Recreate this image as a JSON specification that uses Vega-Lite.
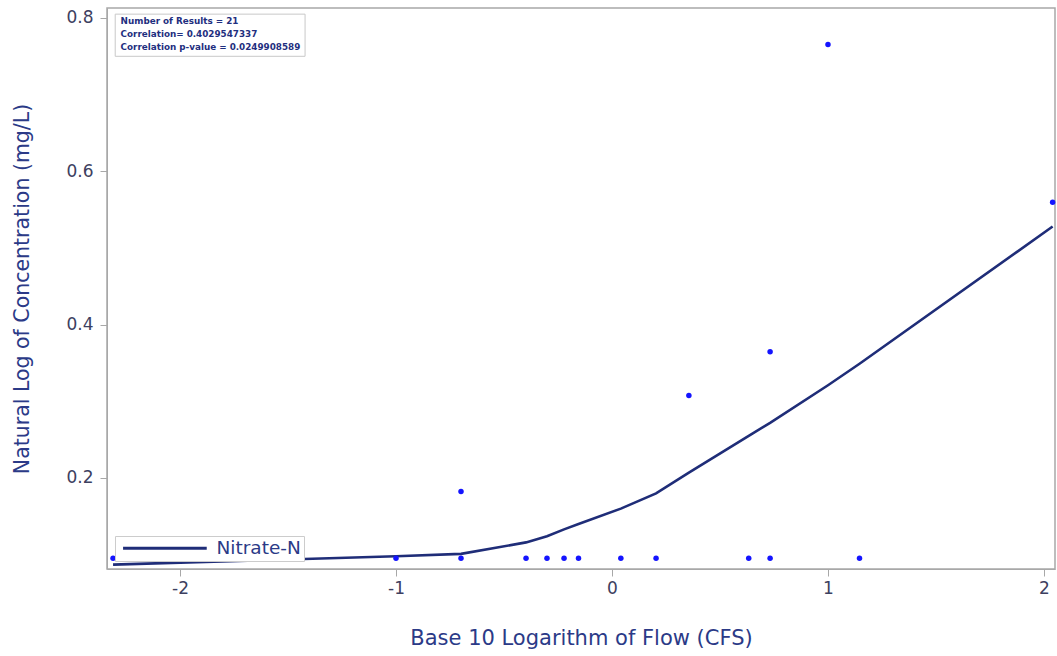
{
  "$schema": "https://vega.github.io/schema/vega-lite/v6.json",
  "width": 948,
  "height": 561,
  "autosize": {"type": "none"},
  "padding": {"left": 107, "top": 8, "right": 2, "bottom": 87},
  "background": "white",
  "config": {
    "font": "DejaVu Sans",
    "view": {"stroke": "#a8a8a8", "strokeWidth": 1.5},
    "axis": {"grid": false, "domainColor": "#a8a8a8", "tickColor": "#a8a8a8", "tickSize": 7, "labelFont": "DejaVu Sans", "labelFontSize": 17, "labelColor": "#3d4060", "titleFont": "DejaVu Sans", "titleFontSize": 20.5, "titleFontWeight": "normal", "titleColor": "#2b3a87"}
  },
  "datasets": {
    "points": [
      {"logflow": -2.31, "lnconc": 0.0953},
      {"logflow": -1.0, "lnconc": 0.0953},
      {"logflow": -0.699, "lnconc": 0.0953},
      {"logflow": -0.699, "lnconc": 0.1823},
      {"logflow": -0.398, "lnconc": 0.0953},
      {"logflow": -0.301, "lnconc": 0.0953},
      {"logflow": -0.222, "lnconc": 0.0953},
      {"logflow": -0.155, "lnconc": 0.0953},
      {"logflow": 0.041, "lnconc": 0.0953},
      {"logflow": 0.204, "lnconc": 0.0953},
      {"logflow": 0.356, "lnconc": 0.3075},
      {"logflow": 0.633, "lnconc": 0.0953},
      {"logflow": 0.732, "lnconc": 0.0953},
      {"logflow": 0.732, "lnconc": 0.3646},
      {"logflow": 1.0, "lnconc": 0.7655},
      {"logflow": 1.146, "lnconc": 0.0953},
      {"logflow": 2.04, "lnconc": 0.5596}
    ],
    "smooth": [
      {"logflow": -2.31, "fit": 0.087, "series": "Nitrate-N"},
      {"logflow": -1.0, "fit": 0.098, "series": "Nitrate-N"},
      {"logflow": -0.699, "fit": 0.101, "series": "Nitrate-N"},
      {"logflow": -0.398, "fit": 0.116, "series": "Nitrate-N"},
      {"logflow": -0.301, "fit": 0.124, "series": "Nitrate-N"},
      {"logflow": -0.222, "fit": 0.133, "series": "Nitrate-N"},
      {"logflow": -0.155, "fit": 0.140, "series": "Nitrate-N"},
      {"logflow": 0.041, "fit": 0.160, "series": "Nitrate-N"},
      {"logflow": 0.204, "fit": 0.180, "series": "Nitrate-N"},
      {"logflow": 0.356, "fit": 0.207, "series": "Nitrate-N"},
      {"logflow": 0.633, "fit": 0.255, "series": "Nitrate-N"},
      {"logflow": 0.732, "fit": 0.272, "series": "Nitrate-N"},
      {"logflow": 1.0, "fit": 0.321, "series": "Nitrate-N"},
      {"logflow": 1.146, "fit": 0.349, "series": "Nitrate-N"},
      {"logflow": 2.04, "fit": 0.528, "series": "Nitrate-N"}
    ]
  },
  "encoding": {
    "x": {"type": "quantitative", "scale": {"domain": [-2.338, 2.051], "nice": false, "zero": false},
          "axis": {"title": "Base 10 Logarithm of Flow (CFS)", "titleFontSize": 21, "values": [-2, -1, 0, 1, 2], "labelExpr": "toString(datum.value)", "labelPadding": 4, "titlePadding": 31}},
    "y": {"type": "quantitative", "scale": {"domain": [0.0813, 0.813], "nice": false, "zero": false},
          "axis": {"title": "Natural Log of Concentration (mg/L)", "values": [0.2, 0.4, 0.6, 0.8], "format": ".1f", "labelPadding": 7, "titlePadding": 33}}
  },
  "layer": [
    {
      "data": {"values": [{"x1": -2.30, "x2": -1.421, "y1": 0.805, "y2": 0.750}]},
      "mark": {"type": "rect", "fill": "white", "stroke": "#c8c8c8", "strokeWidth": 1},
      "encoding": {
        "x": {"field": "x1", "type": "quantitative"},
        "x2": {"field": "x2"},
        "y": {"field": "y1", "type": "quantitative"},
        "y2": {"field": "y2"}
      }
    },
    {
      "data": {"values": [
        {"tx": -2.275, "ty": 0.796, "label": "Number of Results = 21"},
        {"tx": -2.275, "ty": 0.779, "label": "Correlation= 0.4029547337"},
        {"tx": -2.275, "ty": 0.762, "label": "Correlation p-value = 0.0249908589"}
      ]},
      "mark": {"type": "text", "align": "left", "baseline": "middle", "font": "DejaVu Sans", "fontSize": 8.8, "fontWeight": "bold", "color": "#1f2f80"},
      "encoding": {
        "x": {"field": "tx", "type": "quantitative"},
        "y": {"field": "ty", "type": "quantitative"},
        "text": {"field": "label"}
      }
    },
    {
      "data": {"name": "smooth"},
      "mark": {"type": "line", "strokeWidth": 2.6},
      "encoding": {
        "x": {"field": "logflow", "type": "quantitative"},
        "y": {"field": "fit", "type": "quantitative"},
        "color": {"field": "series", "type": "nominal", "scale": {"range": ["#1f2d78"]},
                  "legend": {"title": null, "orient": "bottom-left", "offset": 8, "padding": 3, "fillColor": "white", "strokeColor": "#cccccc", "symbolType": "M-1,0H19", "symbolSize": 70, "symbolStrokeWidth": 3, "labelOffset": 80, "labelFontSize": 18.5, "labelColor": "#2b3a87", "labelFont": "DejaVu Sans"}}
      }
    },
    {
      "data": {"name": "points"},
      "mark": {"type": "circle", "size": 30, "color": "#1414ff", "opacity": 1},
      "encoding": {
        "x": {"field": "logflow", "type": "quantitative"},
        "y": {"field": "lnconc", "type": "quantitative"}
      }
    }
  ]
}
